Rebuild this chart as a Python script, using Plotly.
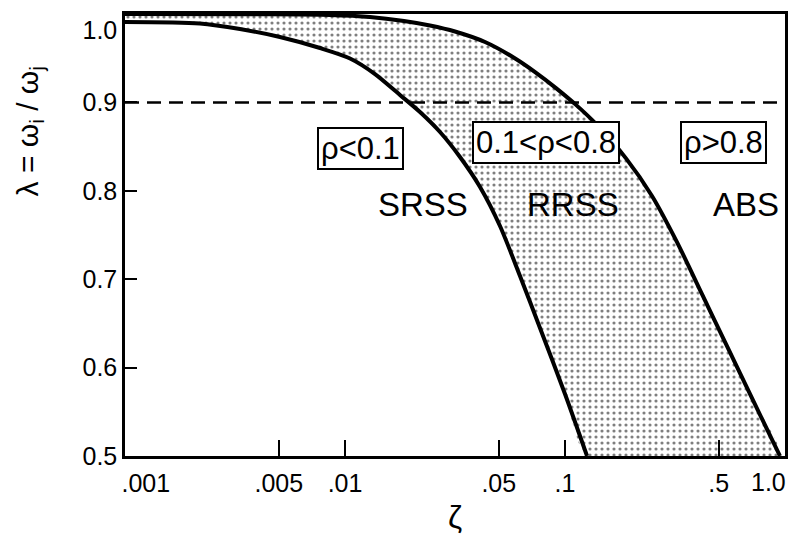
import numpy as np
import plotly.graph_objects as go

# ---- data ----
zeta_srss = [0.001, 0.00219, 0.00333, 0.00506, 0.0077, 0.01054, 0.01369, 0.01778, 0.02192,
             0.02703, 0.03332, 0.04109, 0.05064, 0.06244, 0.07697, 0.1, 0.1259]
lam_srss = [0.991, 0.9893, 0.983, 0.974, 0.9615, 0.9497, 0.9321, 0.9084, 0.8891,
            0.8665, 0.8382, 0.8043, 0.7602, 0.7036, 0.6448, 0.5701, 0.50]

zeta_abs = [0.001, 0.0039, 0.00855, 0.01299, 0.01854, 0.02434, 0.03162, 0.0433, 0.05935,
            0.07314, 0.09102, 0.1122, 0.1383, 0.1894, 0.2486, 0.3229, 0.4196, 0.545,
            0.7151, 0.9491]
lam_abs = [1.0, 0.9997, 0.9989, 0.9966, 0.9921, 0.987, 0.9802, 0.9683, 0.9497,
           0.9343, 0.9162, 0.8972, 0.8757, 0.8367, 0.7941, 0.7419, 0.6831, 0.6242,
           0.5631, 0.50]

ref_zeta = [0.001, 1.0]
ref_lam = [0.9, 0.9]

x_tickvals = [0.001, 0.005, 0.01, 0.05, 0.1, 0.5, 1.0]
x_ticktext = ["\u00a0" * 6 + ".001", ".005", ".01", ".05", ".1", ".5", ""]
x_last_label = "1.0"
y_tickvals = [0.5, 0.6, 0.7, 0.8, 0.9, 1.0]
y_ticktext = ["0.5", "0.6", "0.7", "0.8", "0.9", "<br>1.0"]

box_labels = ["\u03c1<0.1", "0.1<\u03c1<0.8", "\u03c1>0.8"]
box_zeta = [0.0117, 0.082, 0.528]
box_lam = [0.848, 0.855, 0.855]

method_labels = ["SRSS", "RRSS", "ABS"]
method_zeta = [0.0226, 0.1087, 0.665]
method_lam = [0.785, 0.785, 0.785]

FONT = "Liberation Sans"

fig = go.Figure()

# stippled band between the two curves
poly_x = list(zeta_abs) + list(reversed(zeta_srss))
poly_y = list(lam_abs) + list(reversed(lam_srss))
fig.add_trace(go.Scatter(
    x=poly_x, y=poly_y, mode="lines", fill="toself",
    fillcolor="rgba(0,0,0,0)",
    fillpattern=dict(shape=".", fgcolor="black", bgcolor="white", size=6, solidity=0.22),
    line=dict(width=0, shape="spline", smoothing=0.6), hoverinfo="skip", showlegend=False))

# dashed reference line
fig.add_trace(go.Scatter(
    x=ref_zeta, y=ref_lam, mode="lines",
    line=dict(color="black", width=2.5, dash="14px,8px"), showlegend=False))

# boundary curves
for zx, ly in [(zeta_srss, lam_srss), (zeta_abs, lam_abs)]:
    fig.add_trace(go.Scatter(
        x=zx, y=ly, mode="lines",
        line=dict(color="black", width=4, shape="spline", smoothing=0.8),
        showlegend=False))

for t, zx, ly in zip(box_labels, box_zeta, box_lam):
    fig.add_annotation(x=np.log10(zx), y=ly, text=t, showarrow=False,
                       font=dict(family=FONT, size=31, color="black"),
                       bgcolor="white", bordercolor="black", borderwidth=2, borderpad=2)

for t, zx, ly in zip(method_labels, method_zeta, method_lam):
    fig.add_annotation(x=np.log10(zx), y=ly, text=t, showarrow=False,
                       font=dict(family=FONT, size=33, color="black"))

# last x tick label, kept inside the page at the right frame
fig.add_annotation(x=np.log10(x_tickvals[-1]), y=0, yref="paper",
                   xanchor="right", yanchor="top", xshift=3, yshift=-10,
                   text=x_last_label, showarrow=False,
                   font=dict(family=FONT, size=25, color="black"))

# y-axis title
fig.add_annotation(xref="paper", yref="paper", x=-0.145, y=0.735,
                   xanchor="center", yanchor="middle",
                   text="\u03bb = \u03c9<sub>i</sub> / \u03c9<sub>j</sub>",
                   textangle=-90, showarrow=False,
                   font=dict(family=FONT, size=30, color="black"))

fig.update_xaxes(
    type="log", range=[-3, 0], tickvals=x_tickvals, ticktext=x_ticktext,
    ticks="inside", ticklen=16, tickwidth=2, tickcolor="black",
    showline=True, linewidth=2.5, linecolor="black", mirror=True,
    showgrid=False, zeroline=False, automargin=False,
    ticklabeloverflow="allow", ticklabelstandoff=3,
    tickfont=dict(family=FONT, size=25, color="black"),
    title=dict(text="\u03b6", font=dict(family=FONT, size=32, color="black"), standoff=10))

fig.update_yaxes(
    range=[0.5, 1.0], tickvals=y_tickvals, ticktext=y_ticktext,
    ticks="inside", ticklen=12, tickwidth=2, tickcolor="black",
    showline=True, linewidth=2.5, linecolor="black", mirror=True,
    showgrid=False, zeroline=False, automargin=False,
    ticklabeloverflow="allow",
    tickfont=dict(family=FONT, size=25, color="black"))

fig.update_layout(
    width=791, height=542,
    margin=dict(l=125, r=6, t=14, b=86),
    plot_bgcolor="white", paper_bgcolor="white",
    showlegend=False)

fig.write_html("out.html")
